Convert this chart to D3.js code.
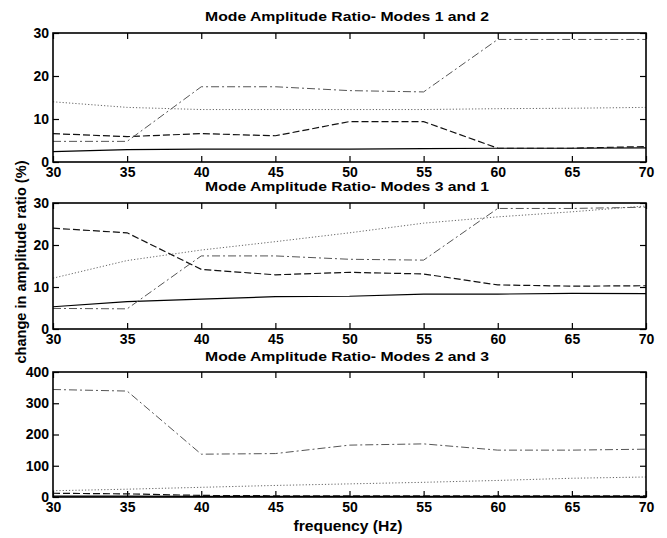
<!DOCTYPE html>
<html lang="en">
<head>
<meta charset="UTF-8">
<title>Mode Amplitude Ratio</title>
<script src="https://d3js.org/d3.v7.min.js"></script>
<style>
  body { margin: 0; background: #fff; }
  svg { display: block; font-family: "Liberation Sans", Arial, sans-serif; }
  .tick text { font-weight: bold; font-size: 14px; fill: #000; }
  .title { font-weight: bold; font-size: 13.5px; }
  .label { font-weight: bold; font-size: 14px; }
</style>
</head>
<body>
<div id="chart"></div>
<script>
// frequency (Hz)
const freqs = [30, 35, 40, 45, 50, 55, 60, 65, 70];
const xTicks = [30, 35, 40, 45, 50, 55, 60, 65, 70];

// Modes 1 and 2
const solid12   = [2.4, 2.9, 3.0, 3.0, 3.0, 3.1, 3.2, 3.2, 3.3];
const dashed12  = [6.6, 5.9, 6.6, 6.1, 9.4, 9.4, 3.2, 3.2, 3.6];
const dashdot12 = [4.8, 4.8, 17.5, 17.5, 16.6, 16.3, 28.5, 28.5, 28.5];
const dotted12  = [14.0, 12.7, 12.2, 12.2, 12.2, 12.2, 12.4, 12.5, 12.7];

// Modes 3 and 1
const solid31   = [5.3, 6.5, 7.1, 7.7, 7.8, 8.3, 8.3, 8.5, 8.4];
const dashed31  = [24.0, 22.9, 14.2, 12.9, 13.5, 13.1, 10.5, 10.2, 10.3];
const dashdot31 = [4.9, 4.8, 17.4, 17.4, 16.6, 16.4, 28.7, 28.7, 29.0];
const dotted31  = [12.1, 16.3, 18.8, 20.8, 22.9, 25.2, 26.7, 27.9, 29.3];

// Modes 2 and 3
const solid23   = [3, 3, 2, 2, 2, 2, 2, 2, 2];
const dashed23  = [12, 10, 5, 4, 4, 4, 4, 4, 4];
const dashdot23 = [344, 339, 137, 139, 166, 170, 150, 150, 153];
const dotted23  = [20, 25, 31, 37, 42, 47, 53, 60, 64];

const panels = [
  { title: "Mode Amplitude Ratio- Modes 1 and 2", top: 33, bottom: 162, titleY: 21, ymax: 30, yTicks: [0, 10, 20, 30],
    series: [solid12, dashed12, dashdot12, dotted12] },
  { title: "Mode Amplitude Ratio- Modes 3 and 1", top: 203, bottom: 329, titleY: 191, ymax: 30, yTicks: [0, 10, 20, 30],
    series: [solid31, dashed31, dashdot31, dotted31] },
  { title: "Mode Amplitude Ratio- Modes 2 and 3", top: 372, bottom: 497, titleY: 361, ymax: 400, yTicks: [0, 100, 200, 300, 400],
    series: [solid23, dashed23, dashdot23, dotted23] }
];

const styles = [
  { dash: null,       color: "#000", w: 1.2 },
  { dash: "7,3",      color: "#111", w: 1.2 },
  { dash: "8,3,2,3",  color: "#555", w: 1 },
  { dash: "1.2,2",    color: "#666", w: 1 }
];

const width = 667, height = 538;
const left = 53, right = 646;

const svg = d3.select("#chart").append("svg")
  .attr("width", width).attr("height", height);

const x = d3.scaleLinear().domain([30, 70]).range([left, right]);

panels.forEach(p => {
  const y = d3.scaleLinear().domain([0, p.ymax]).range([p.bottom, p.top]);
  const g = svg.append("g");

  // inward ticks on all four sides
  g.append("g")
    .attr("transform", `translate(0,${p.bottom})`)
    .call(d3.axisBottom(x).tickValues(xTicks).tickSize(-6).tickPadding(5).tickFormat(d3.format("d")))
    .call(a => a.select(".domain").remove());
  g.append("g")
    .attr("transform", `translate(0,${p.top})`)
    .call(d3.axisTop(x).tickValues(xTicks).tickSize(-6).tickFormat(""))
    .call(a => a.select(".domain").remove());
  g.append("g")
    .attr("transform", `translate(${left},0)`)
    .call(d3.axisLeft(y).tickValues(p.yTicks).tickSize(-6).tickPadding(4).tickFormat(d3.format("d")))
    .call(a => a.select(".domain").remove());
  g.append("g")
    .attr("transform", `translate(${right},0)`)
    .call(d3.axisRight(y).tickValues(p.yTicks).tickSize(-6).tickFormat(""))
    .call(a => a.select(".domain").remove());
  g.selectAll(".tick line").attr("stroke", "#000").attr("stroke-width", 1.2);

  const line = d3.line().x((d, i) => x(freqs[i])).y(d => y(d));
  p.series.forEach((s, k) => {
    const st = styles[k];
    g.append("path")
      .datum(s)
      .attr("d", line)
      .attr("fill", "none")
      .attr("stroke", st.color)
      .attr("stroke-width", st.w)
      .attr("stroke-dasharray", st.dash);
  });

  g.append("rect")
    .attr("x", left).attr("y", p.top)
    .attr("width", right - left).attr("height", p.bottom - p.top)
    .attr("fill", "none").attr("stroke", "#000").attr("stroke-width", 1.6);

  g.append("text")
    .attr("class", "title")
    .attr("x", 347)
    .attr("y", p.titleY)
    .attr("text-anchor", "middle")
    .attr("textLength", 284)
    .attr("lengthAdjust", "spacingAndGlyphs")
    .text(p.title);
});

svg.append("text")
  .attr("class", "label")
  .attr("x", 348)
  .attr("y", 531)
  .attr("text-anchor", "middle")
  .attr("textLength", 109)
  .attr("lengthAdjust", "spacingAndGlyphs")
  .text("frequency (Hz)");

svg.append("text")
  .attr("class", "label")
  .attr("transform", "rotate(-90)")
  .attr("x", -262)
  .attr("y", 26)
  .attr("text-anchor", "middle")
  .attr("textLength", 203)
  .attr("lengthAdjust", "spacingAndGlyphs")
  .text("change in amplitude ratio (%)");
</script>
</body>
</html>
